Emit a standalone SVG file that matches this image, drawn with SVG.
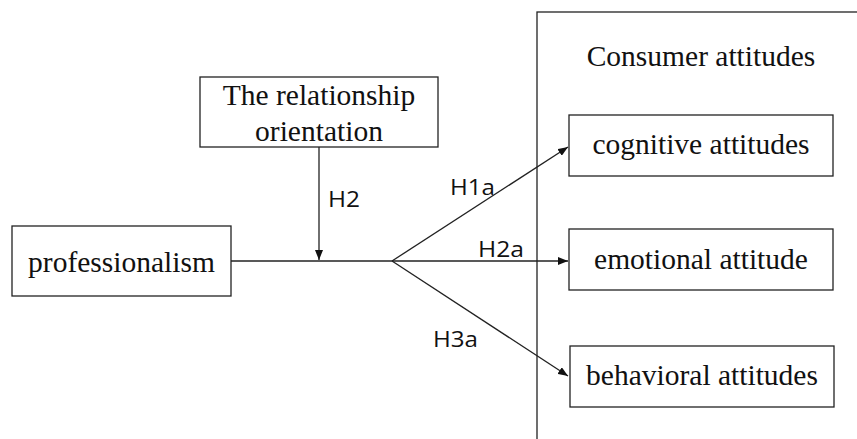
<svg xmlns="http://www.w3.org/2000/svg" width="857" height="439" viewBox="0 0 857 439">
<style>
.box{fill:#fff;stroke:#222;stroke-width:1.3}
.t{font-family:"Liberation Serif","Times New Roman",serif;font-size:29.5px;fill:#111;text-anchor:middle}
.h{font-family:"Open Sans","Liberation Sans",sans-serif;font-size:22.5px;fill:#111}
.c{stroke:#222;stroke-width:1.3;fill:none}
</style>
<defs>
<marker id="ah" viewBox="0 0 10 8" refX="10" refY="4" markerWidth="10" markerHeight="8" markerUnits="userSpaceOnUse" orient="auto">
<path d="M0,0 L10,4 L0,8 Z" fill="#111"/>
</marker>
</defs>
<g id="container">
<rect x="537" y="12" width="340" height="450" fill="none" stroke="#222" stroke-width="1.3"/>
<text class="t" x="701" y="66">Consumer attitudes</text>
</g>
<g id="connectors">
<line class="c" x1="231" y1="261" x2="392" y2="261"/>
<line class="c" x1="319" y1="147" x2="319" y2="260" marker-end="url(#ah)"/>
<line class="c" x1="392" y1="261" x2="568" y2="147" marker-end="url(#ah)"/>
<line class="c" x1="392" y1="261" x2="568" y2="261" marker-end="url(#ah)"/>
<line class="c" x1="392" y1="261" x2="568" y2="376" marker-end="url(#ah)"/>
<text class="h" x="328" y="207" textLength="32" lengthAdjust="spacingAndGlyphs">H2</text>
<text class="h" x="450" y="195" textLength="45" lengthAdjust="spacingAndGlyphs">H1a</text>
<text class="h" x="478" y="257" textLength="46" lengthAdjust="spacingAndGlyphs">H2a</text>
<text class="h" x="433" y="347" textLength="45" lengthAdjust="spacingAndGlyphs">H3a</text>
</g>
<g id="relationship">
<rect class="box" x="200" y="77" width="238" height="70"/>
<text class="t" x="319" y="105">The relationship</text>
<text class="t" x="319" y="141">orientation</text>
</g>
<g id="professionalism">
<rect class="box" x="12" y="226" width="219" height="70"/>
<text class="t" x="121.5" y="272">professionalism</text>
</g>
<g id="cognitive">
<rect class="box" x="569" y="115" width="264" height="61"/>
<text class="t" x="701" y="154">cognitive attitudes</text>
</g>
<g id="emotional">
<rect class="box" x="569" y="229" width="264" height="61"/>
<text class="t" x="701" y="269">emotional attitude</text>
</g>
<g id="behavioral">
<rect class="box" x="570" y="346" width="264" height="61"/>
<text class="t" x="702" y="385">behavioral attitudes</text>
</g>
</svg>
